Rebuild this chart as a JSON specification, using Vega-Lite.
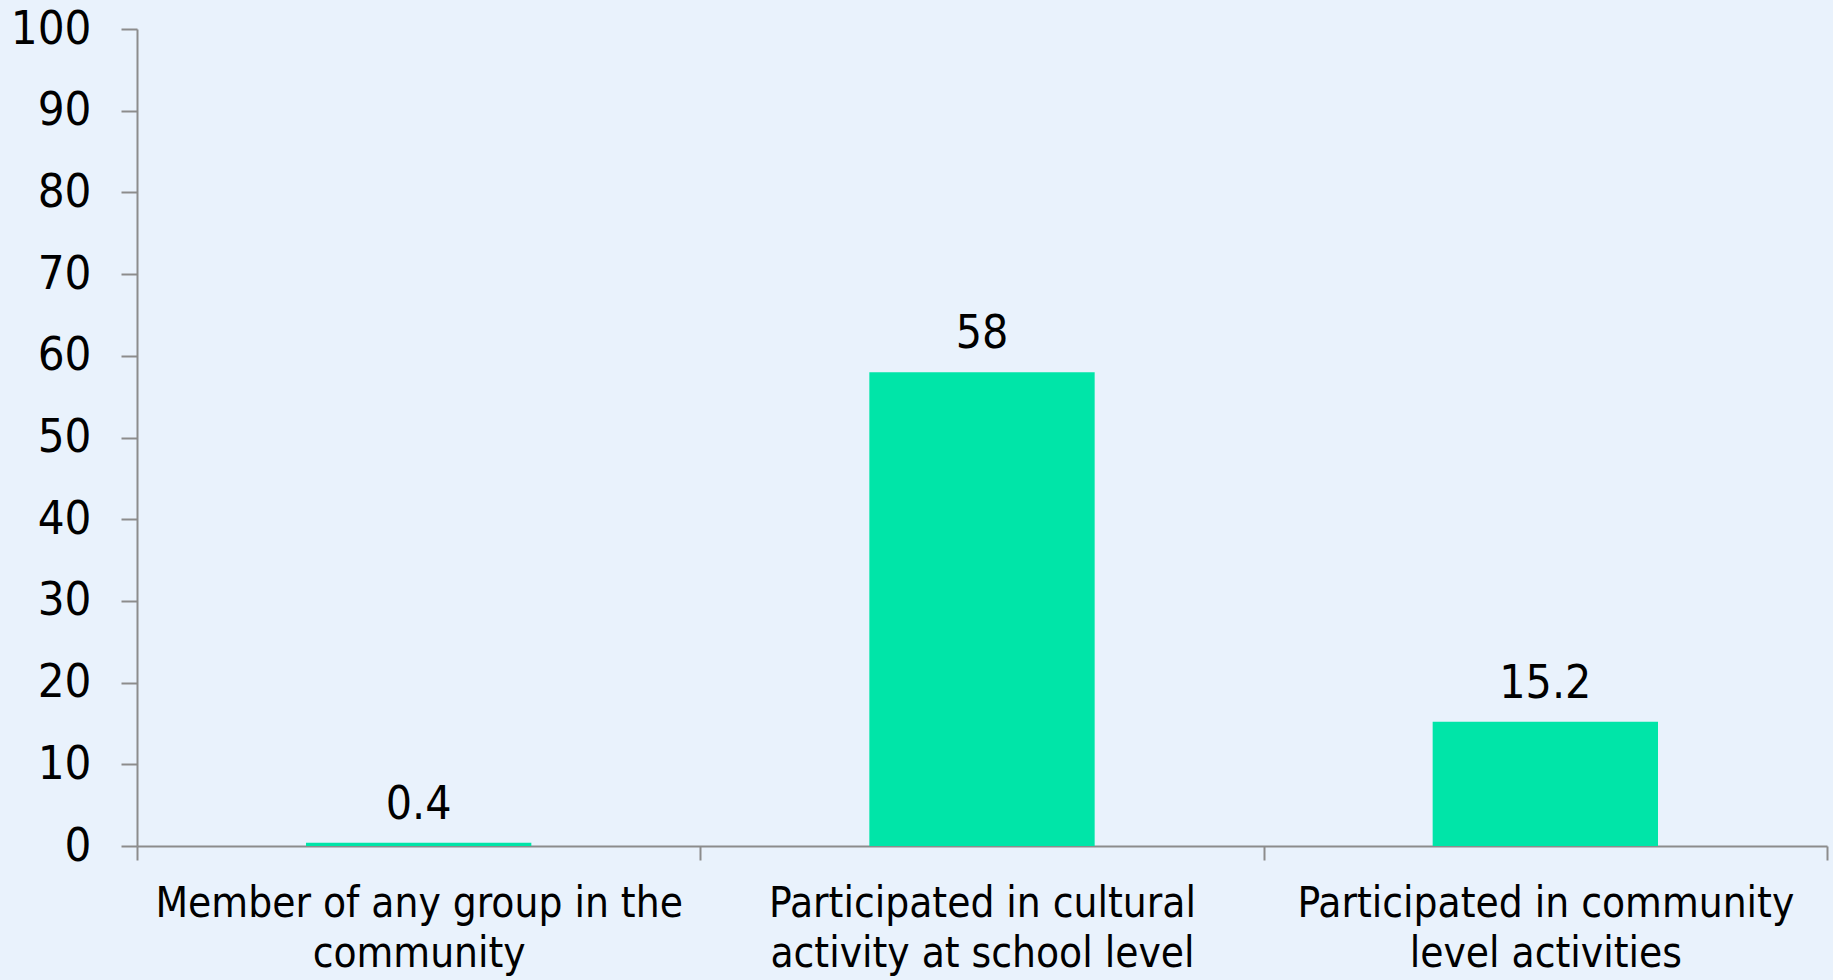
{
  "$schema": "https://vega.github.io/schema/vega-lite/v6.json",
  "autosize": {"type": "none"},
  "width": 1690,
  "height": 817,
  "padding": {"left": 137, "top": 29, "right": 6, "bottom": 134},
  "background": "#e9f2fc",
  "config": {
    "view": {"stroke": null},
    "font": "DejaVu Sans Condensed, DejaVu Sans",
    "axis": {"grid": false, "domainColor": "#8c8c8c", "tickColor": "#8c8c8c", "domainWidth": 2, "tickWidth": 2, "labelColor": "#000000", "labelFont": "DejaVu Sans Condensed, DejaVu Sans"}
  },
  "data": {
    "values": [
      {"category": "Member of any group in the|community", "value": 0.4},
      {"category": "Participated in cultural|activity at school level", "value": 58},
      {"category": "Participated in community|level activities", "value": 15.2}
    ]
  },
  "encoding": {
    "x": {
      "field": "category", "type": "nominal", "sort": null,
      "scale": {"paddingInner": 0, "paddingOuter": 0},
      "axis": {"title": null, "labelAngle": 0, "labelExpr": "datum.value ? split(datum.value, '|') : ''", "labelFontSize": 42, "labelLineHeight": 50, "labelPadding": 23, "tickSize": 14, "tickBand": "extent", "labelLimit": 800}
    },
    "y": {
      "field": "value", "type": "quantitative",
      "scale": {"domain": [0, 100], "nice": false},
      "axis": {"title": null, "values": [0,10,20,30,40,50,60,70,80,90,100], "tickSize": 16, "labelPadding": 30, "labelFontSize": 47}
    }
  },
  "layer": [
    {"mark": {"type": "bar", "color": "#00e5a8", "width": {"band": 0.4}}},
    {"mark": {"type": "text", "baseline": "bottom", "dy": -14, "fontSize": 46, "color": "#000000"},
     "encoding": {"text": {"field": "value", "type": "quantitative", "format": "~g"}}}
  ]
}
